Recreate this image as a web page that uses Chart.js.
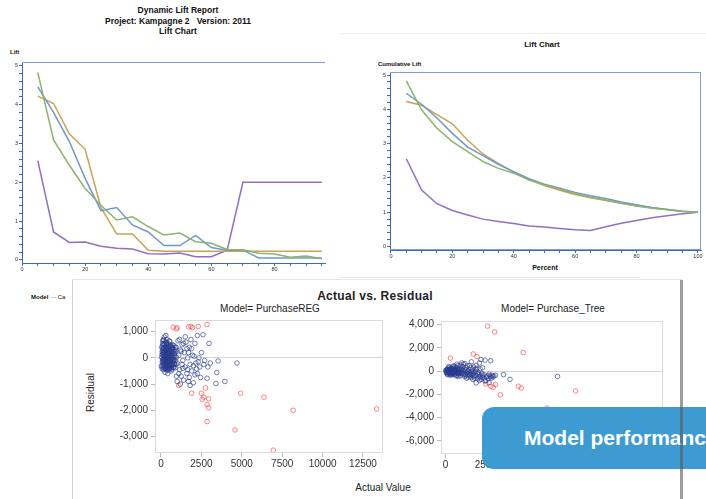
<!DOCTYPE html>
<html>
<head>
<meta charset="utf-8">
<script src="https://cdn.jsdelivr.net/npm/chart.js@4.4.0/dist/chart.umd.min.js"></script>
<style>
  body { margin: 0; width: 706px; height: 499px; overflow: hidden; background: #fff; position: relative;
         font-family: "Liberation Sans", Arial, sans-serif; }
  .abs { position: absolute; }
  canvas { position: absolute; }
  .t { position: absolute; white-space: nowrap; color: #111; }
  .b { font-weight: bold; }
  #panel { left: 72px; top: 279px; width: 609px; height: 230px; background: #fff;
           border-left: 1px solid #cfcfcf; border-top: 1px solid #e6e6e6; }
  #shadow { left: 680px; top: 280px; width: 3px; height: 230px; background: rgba(90,90,90,0.6); z-index: 5; }
  #badge { left: 482px; top: 407px; width: 240px; height: 62px; background: #3e9bd1;
           border-radius: 12px 0 0 12px; z-index: 4; overflow: hidden; }
  #badge span { position: absolute; left: 42px; top: 19px; color: #fff; font-weight: bold; font-size: 21px; white-space: nowrap; }
</style>
</head>
<body>
<div class="t b" style="left:0;width:356px;text-align:center;top:5px;font-size:8.5px;">Dynamic Lift Report</div>
<div class="t b" style="left:0;width:356px;text-align:center;top:16px;font-size:8.5px;">Project: Kampagne 2&nbsp;&nbsp; Version: 2011</div>
<div class="t b" style="left:0;width:356px;text-align:center;top:26px;font-size:8.5px;">Lift Chart</div>
<div class="t b" style="left:10px;top:49px;font-size:6px;">Lift</div>
<canvas id="lift" width="330" height="218" style="left:0;top:57px;"></canvas>

<div class="abs" style="left:340px;top:33px;width:366px;height:1px;background:#f0f0f0;"></div>
<div class="t b" style="left:442px;width:200px;text-align:center;top:40px;font-size:8px;">Lift Chart</div>
<div class="t b" style="left:378px;top:61px;font-size:6px;">Cumulative Lift</div>
<canvas id="cum" width="328" height="197" style="left:378px;top:67px;"></canvas>
<div class="t b" style="left:495px;width:100px;text-align:center;top:264px;font-size:7px;">Percent</div>
<div class="abs" style="left:340px;top:277px;width:300px;height:1px;background:#e4e4e4;"></div>

<div class="t" style="left:31px;top:294px;font-size:6px;width:41px;overflow:hidden;"><b>Model</b> <span style="color:#6d96c9;">&mdash;</span> Ca</div>

<div id="panel" class="abs"></div>
<div class="t b" style="left:275px;width:200px;text-align:center;top:289px;font-size:12px;color:#222;letter-spacing:0.3px;">Actual vs. Residual</div>
<div class="t" style="left:170px;width:200px;text-align:center;top:303px;font-size:10px;color:#222;">Model= PurchaseREG</div>
<div class="t" style="left:453px;width:200px;text-align:center;top:303px;font-size:10px;color:#222;">Model= Purchase_Tree</div>
<div class="t" style="left:62px;top:387px;font-size:10px;color:#222;transform:rotate(-90deg);transform-origin:center;width:56px;text-align:center;">Residual</div>
<canvas id="reg" width="288" height="162" style="left:105px;top:311px;"></canvas>
<canvas id="tree" width="282" height="162" style="left:391px;top:312px;"></canvas>
<div class="t" style="left:333px;width:100px;text-align:center;top:482px;font-size:10px;color:#222;">Actual Value</div>

<div id="badge" class="abs"><span>Model performance</span></div>
<div id="shadow" class="abs"></div>

<script>
// lift chart data (percentile buckets)
const pct = [5,10,15,20,25,30,35,40,45,50,55,60,65,70,75,80,85,90,95];
const liftGreen  = [4.83,3.09,2.44,1.84,1.41,1.03,1.11,0.86,0.64,0.69,0.47,0.43,0.27,0.26,0.17,0.15,0.07,0.1,0.03];
const liftBlue   = [4.46,3.8,3.05,2.1,1.27,1.35,0.9,0.72,0.37,0.37,0.63,0.32,0.25,0.25,0.05,0.05,0.05,0.05,0.05];
const liftOrange = [4.22,4.03,3.25,2.85,1.35,0.67,0.67,0.25,0.22,0.22,0.22,0.22,0.22,0.22,0.22,0.22,0.22,0.22,0.22];
const liftPurple = [2.56,0.72,0.45,0.46,0.35,0.3,0.28,0.16,0.15,0.18,0.08,0.08,0.25,2.0,2.0,2.0,2.0,2.0,2.0];

// cumulative lift
const pctCum = [5,10,15,20,25,30,35,40,45,50,55,60,65,70,75,80,85,90,95,100];
const cumGreen  = [4.83,3.98,3.45,3.06,2.77,2.48,2.28,2.14,1.94,1.8,1.67,1.55,1.44,1.36,1.26,1.18,1.12,1.07,1.02,1.0];
const cumBlue   = [4.47,4.15,3.75,3.3,2.9,2.65,2.4,2.18,1.98,1.82,1.7,1.58,1.48,1.4,1.3,1.22,1.14,1.08,1.03,1.0];
const cumOrange = [4.23,4.12,3.85,3.58,3.1,2.7,2.42,2.18,1.95,1.78,1.64,1.52,1.42,1.34,1.26,1.19,1.13,1.08,1.03,1.0];
const cumPurple = [2.56,1.65,1.25,1.05,0.92,0.8,0.73,0.67,0.6,0.57,0.53,0.49,0.47,0.58,0.68,0.76,0.84,0.9,0.96,1.0];

// scatter tick labels
const actualTicks = [0,2500,5000,7500,10000,12500];
const regResidTicks = [1000,0,-1000,-2000,-3000];
const treeResidTicks = [4000,2000,0,-2000,-4000,-6000];

// actual vs residual, regression model
const regBlue = [
  [60,120],[80,-150],[100,300],[120,-50],[140,500],[150,-300],[170,50],[180,650],[200,-200],[210,250],
  [230,-420],[240,100],[260,400],[270,-100],[290,600],[300,-350],[310,0],[330,200],[340,-250],[360,700],
  [370,350],[390,-50],[400,-450],[420,150],[430,550],[450,-150],[460,300],[480,-300],[500,50],[510,650],
  [530,-100],[540,250],[560,-400],[580,450],[590,-200],[610,100],[630,-500],[650,350],[660,-50],[680,200],
  [700,-300],[720,500],[740,0],[760,-150],[780,300],[800,-350],[820,150],[850,-250],[870,400],[900,-100],
  [60,-350],[90,450],[110,-250],[130,200],[160,-450],[190,350],[220,-20],[250,-300],[280,150],[320,450],
  [350,-180],[380,80],[410,-320],[440,380],[470,-60],[520,180],[550,-260],[600,330],[640,-380],[690,60],
  [730,-220],[770,120],[810,-80],[860,240],[100,650],[200,800],[300,850],[250,-550],[420,-600],[150,700],
  [40,20],[70,230],[95,-80],[130,-180],[165,380],[205,120],[235,-120],[265,280],[295,-220],[325,60],
  [355,520],[385,-380],[415,240],[445,-30],[475,160],[505,-420],[535,420],[565,40],[595,-120],[625,250],
  [20,-300],[45,400],[75,-420],[105,120],[125,550],[145,-80],[175,-350],[195,180],[215,520],[245,-180],
  [275,40],[285,-420],[305,330],[335,-130],[345,580],[365,-300],[395,220],[405,-150],[425,-470],[455,460],
  [465,-380],[485,70],[495,300],[515,-240],[545,620],[555,80],[575,-330],[605,-40],[615,480],[645,140],
  [655,-280],[675,-440],[705,380],[715,-80],[745,220],[755,-380],[785,-40],[795,470],[825,-230],[845,60],
  [875,-380],[880,180],[910,300],[930,-250],[960,20],[120,350],[200,-80],[320,-30],[440,90],[560,-130],
  [680,420],[150,180],[260,-400],[380,500],[500,-300],[620,-250],
  [950,400],[1000,-200],[1050,650],[1100,100],[1150,-450],[1200,300],[1250,-700],[1300,500],[1350,-100],[1400,-850],
  [1450,200],[1500,-350],[1550,600],[1600,-600],[1650,0],[1700,-900],[1750,400],[1800,-250],[1850,700],[1900,-500],
  [1950,100],[2000,-300],[2050,60],[2100,550],[2150,-200],[2200,-420],[2250,850],[2300,-150],[2400,-350],[2450,-750],
  [2500,200],[2600,880],[2650,-250],[2700,-100],[2850,-780],[2970,550],[2900,-350],[3050,-200],[3400,-980],[3450,-560],
  [3530,-120],[3950,-900],[4700,-200],[1000,-900],[1100,-600],[1250,250],[1350,-400],[1500,800],[1600,350],[1750,-750],
  [1900,350],[2000,-950],[2100,-650],[1200,-1000],[1400,550],[1700,200],[1800,-1050],[950,-700],[1150,700],[1300,-250],
  [1650,-450],[2250,-600],[2350,0]
];
const regRed = [
  [750,1170],[950,1100],[1000,1150],[1700,1180],[1850,1200],[1950,1150],[2300,1200],[2850,1270],
  [1100,-1050],[1900,-1350],[2500,-1350],[2750,-1150],[2550,-1580],[2650,-1500],[2950,-1560],[2850,-1780],
  [2950,-1900],[2850,-2430],[4580,-2750],[4930,-1350],[6370,-1500],[6950,-3520],[8180,-2000],[13340,-1950]
];

// actual vs residual, tree model
const treeBlue = [
  [30,0],[60,100],[90,-100],[120,200],[150,50],[180,-150],[210,300],[240,-50],[270,150],[300,-200],
  [330,250],[360,0],[390,-250],[420,350],[450,100],[480,-100],[510,200],[540,-300],[570,400],[600,50],
  [630,-200],[660,300],[690,-50],[720,-350],[750,450],[780,150],[810,-250],[840,250],[870,-100],[900,500],
  [930,-400],[960,100],[1000,-200],[1050,400],[1100,-300],[1150,200],[1200,-450],[1250,300],[1300,-150],[1350,450],
  [1400,-500],[1450,100],[1500,-300],[1550,300],[1600,-550],[1650,150],[1700,-250],[1750,350],[1800,-600],[1850,0],
  [1900,-400],[1950,250],[2000,-650],[2050,-100],[2100,-450],[2150,200],[2200,-700],[2250,-200],[2300,-500],[2400,-300],
  [2500,-800],[2600,-400],[2700,-250],[2800,-500],[2900,-350],[3000,-400],[100,-250],[200,400],[400,-300],[500,450],
  [700,600],[800,-450],[1100,600],[1300,-600],[1500,500],[1700,-700],[1900,500],[2100,-800],[2300,300],[1000,700],
  [1200,650],[300,-350],[650,-400],[50,-150],[140,-300],[250,-250],[350,200],[460,-200],[560,150],[760,-150],
  [20,80],[70,-60],[110,150],[160,-20],[190,120],[230,-120],[260,50],[290,-80],[320,100],[350,-130],
  [380,80],[410,-40],[440,160],[470,-150],[500,30],[530,120],[560,-100],[590,-30],[620,180],[680,-120],
  [710,80],[740,-200],[770,-20],[830,-80],[860,100],[890,-180],[950,-60],[990,150],[1030,-120],[1080,60],
  [1130,-220],[1180,20],[1230,-300],[1280,120],[1330,-350],[1380,-50],[1430,-250],[1480,-120],[1530,-400],[1580,-80],
  [1630,-300],[1680,0],[1730,-450],[1780,-100],[1830,-350],[1880,150],[1980,-200],[2080,-300],[2180,-550],[2280,-350],
  [2380,-600],[2550,-500],[2650,-650],[2750,-400],[2850,-600],[2950,-500],
  [2200,1000],[2450,950],[2800,900],[3600,-300],[4000,-700],[6950,-450],[2700,-1000],[2450,-850],[1900,-1000],[3100,-350],
  [1600,800],[2100,700],[13200,-6900]
];
const treeRed = [
  [2600,3870],[3050,3370],[4820,1600],[300,1120],[1720,1480],[1950,1250],[2500,-1100],[2800,-1300],
  [2950,-1400],[3100,-1150],[3400,-2030],[4520,-1300],[4700,-1450],[6300,-3170],[8080,-1700]
];

const frame = {
  id: 'frame',
  afterDraw(chart, args, opts) {
    const a = chart.chartArea, c = chart.ctx;
    c.save();
    c.strokeStyle = opts.color;
    c.lineWidth = 1;
    c.beginPath();
    const s = opts.sides;
    if (s.includes('t')) { c.moveTo(a.left, a.top + 0.5); c.lineTo(a.right, a.top + 0.5); }
    if (s.includes('r')) { c.moveTo(a.right - 0.5, a.top); c.lineTo(a.right - 0.5, a.bottom); }
    if (s.includes('b')) { c.moveTo(a.left, a.bottom - 0.5); c.lineTo(a.right, a.bottom - 0.5); }
    if (s.includes('l')) { c.moveTo(a.left + 0.5, a.top); c.lineTo(a.left + 0.5, a.bottom); }
    c.stroke();
    c.restore();
  }
};

const FONT = '"Liberation Sans", Arial, sans-serif';
const AXIS = '#3d66c6';
const COL = { green: '#8db36f', blue: '#6f98cb', orange: '#c9a255', purple: '#8f70c2' };

function pts(xs, ys) { return xs.map((x, i) => ({ x: x, y: ys[i] })); }
function line(data, color) {
  return { data: data, borderColor: color, borderWidth: 1.5, pointRadius: 0, fill: false, tension: 0 };
}
function fixW(w) { return s => { s.width = w; }; }
function fixH(h) { return s => { s.height = h; }; }
function useTicks(list) { return s => { s.ticks = list.map(v => ({ value: v })); }; }

function liftChart(id, xs, series, xmin, xmax, ymin, ymax, ywidth, xheight, sides) {
  new Chart(document.getElementById(id), {
    type: 'line',
    data: { datasets: [
      line(pts(xs, series[0]), COL.green),
      line(pts(xs, series[1]), COL.blue),
      line(pts(xs, series[2]), COL.orange),
      line(pts(xs, series[3]), COL.purple)
    ] },
    options: {
      responsive: false, animation: false, devicePixelRatio: 1,
      layout: { padding: { top: 5, right: 5, left: 0, bottom: 0 } },
      plugins: { legend: { display: false }, tooltip: { enabled: false },
                 frame: { color: '#7f9ddc', sides: sides } },
      scales: {
        x: {
          type: 'linear', min: xmin, max: xmax, afterFit: fixH(xheight),
          border: { color: AXIS, width: 1 },
          grid: { drawOnChartArea: false, color: AXIS, tickLength: 3 },
          ticks: { stepSize: 5, includeBounds: false, autoSkip: false, maxRotation: 0, padding: 0,
                   color: '#333', font: { size: 5.5, family: FONT },
                   callback: v => (Math.round(v) % 20 === 0 ? String(Math.round(v)) : '') }
        },
        y: {
          min: ymin, max: ymax, afterFit: fixW(ywidth),
          border: { color: AXIS, width: 1 },
          grid: { drawOnChartArea: false, color: AXIS, tickLength: 3 },
          ticks: { stepSize: 0.2, includeBounds: false, autoSkip: false, padding: 1,
                   color: '#333', font: { size: 5.5, family: FONT },
                   callback: v => (Math.abs(v - Math.round(v)) < 1e-6 ? String(Math.round(v)) : '') }
        }
      }
    },
    plugins: [frame]
  });
}

liftChart('lift', pct, [liftGreen, liftBlue, liftOrange, liftPurple], 0, 96, -0.08, 5.1, 22, 12, 't');
liftChart('cum', pctCum, [cumGreen, cumBlue, cumOrange, cumPurple], -0.3, 101, -0.1, 5.09, 12, 14, 'trb');

function scatterChart(id, blue, red, xmin, xmax, ymin, ymax, yticks, ywidth) {
  new Chart(document.getElementById(id), {
    type: 'scatter',
    data: { datasets: [
      { data: blue.map(p => ({ x: p[0], y: p[1] })), pointRadius: 2.3, borderWidth: 0.9,
        borderColor: 'rgba(40,58,140,0.72)', backgroundColor: 'rgba(0,0,0,0)' },
      { data: red.map(p => ({ x: p[0], y: p[1] })), pointRadius: 2.3, borderWidth: 0.9,
        borderColor: 'rgba(255,60,60,0.7)', backgroundColor: 'rgba(0,0,0,0)' }
    ] },
    options: {
      responsive: false, animation: false, devicePixelRatio: 1,
      layout: { padding: { top: 5, right: 10, left: 0, bottom: 0 } },
      plugins: { legend: { display: false }, tooltip: { enabled: false },
                 frame: { color: '#dcdcdc', sides: 'trbl' } },
      scales: {
        x: {
          type: 'linear', min: xmin, max: xmax, afterFit: fixH(20),
          afterBuildTicks: useTicks(actualTicks),
          border: { display: false },
          grid: { drawOnChartArea: false, tickColor: '#bbb', tickLength: 4 },
          ticks: { autoSkip: false, maxRotation: 0, padding: 1,
                   color: '#333', font: { size: 10, family: FONT }, callback: v => String(v) }
        },
        y: {
          min: ymin, max: ymax, afterFit: fixW(ywidth),
          afterBuildTicks: useTicks(yticks),
          border: { display: false },
          grid: { color: c => (c.tick && c.tick.value === 0 ? '#d4d4d4' : 'rgba(0,0,0,0)'),
                  tickColor: '#bbb', tickLength: 4 },
          ticks: { autoSkip: false, padding: 3,
                   color: '#333', font: { size: 10, family: FONT },
                   callback: v => v.toLocaleString('en-US') }
        }
      }
    },
    plugins: [frame]
  });
}

scatterChart('reg', regBlue, regRed, -371, 13738, -3630, 1444, regResidTicks, 50);
scatterChart('tree', treeBlue, treeRed, -285, 13505, -7118, 4310, treeResidTicks, 50);
</script>
</body>
</html>
